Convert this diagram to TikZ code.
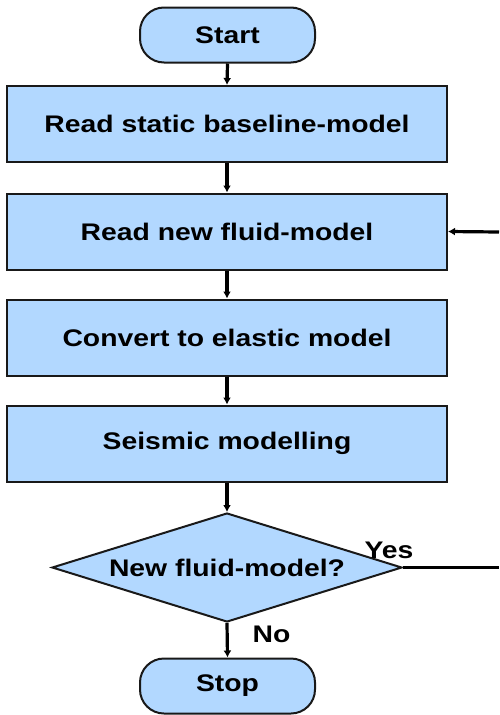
\documentclass[tikz,border=0pt]{standalone}
\usepackage{fontspec}
\setmainfont{Liberation Sans}[FakeStretch=1.18]
\usetikzlibrary{shapes.geometric,arrows.meta}
\definecolor{boxfill}{RGB}{178,216,255}
\tikzset{
  lbl/.style={font=\fontsize{24}{28}\selectfont\bfseries, text=black},
  procbox/.style={draw=black!90, line width=2pt, fill=boxfill, minimum width=440pt, minimum height=76pt, inner sep=0pt, lbl},
  termbox/.style={draw=black!90, line width=2pt, fill=boxfill, rounded corners=24pt, minimum width=175pt, minimum height=55pt, inner sep=0pt, lbl},
  decbox/.style={draw=black!90, line width=2pt, fill=boxfill, shape=diamond, aspect=3.2, minimum width=350pt, minimum height=109pt, inner sep=0pt, lbl},
  conn/.style={line width=3.2pt, black},
  arr/.style={conn, -{Latex[length=7pt,width=8pt]}},
}
\begin{document}
\begin{tikzpicture}[x=1pt,y=-1pt]
\useasboundingbox (0,0) rectangle (499,715);
\node[termbox] (start) at (227.5,35) {Start};
\node[procbox] (b1) at (227,124) {Read static baseline-model};
\node[procbox] (b2) at (227,231.5) {Read new fluid-model};
\node[procbox] (b3) at (227,337.5) {Convert to elastic model};
\node[procbox] (b4) at (227,443.5) {Seismic modelling};
\node[decbox] (dia) at (227,567.5) {New fluid-model?};
\node[termbox] (stop) at (227.5,686) {Stop};
\coordinate (yesend) at (499,567.5);
\coordinate (loopin) at (499,232);
\draw[arr] (start.south) -- (b1.north);
\draw[arr] (b1.south) -- (b2.north);
\draw[arr] (b2.south) -- (b3.north);
\draw[arr] (b3.south) -- (b4.north);
\draw[arr] (b4.south) -- (dia.north);
\draw[arr] (dia.south) -- (stop.north);
\draw[conn] (dia.east) -- (yesend);
\draw[arr] (loopin) -- (b2.east);
\node[lbl] (yes) at (389,550) {Yes};
\node[lbl] (no) at (271.5,634) {No};
\end{tikzpicture}
\end{document}
